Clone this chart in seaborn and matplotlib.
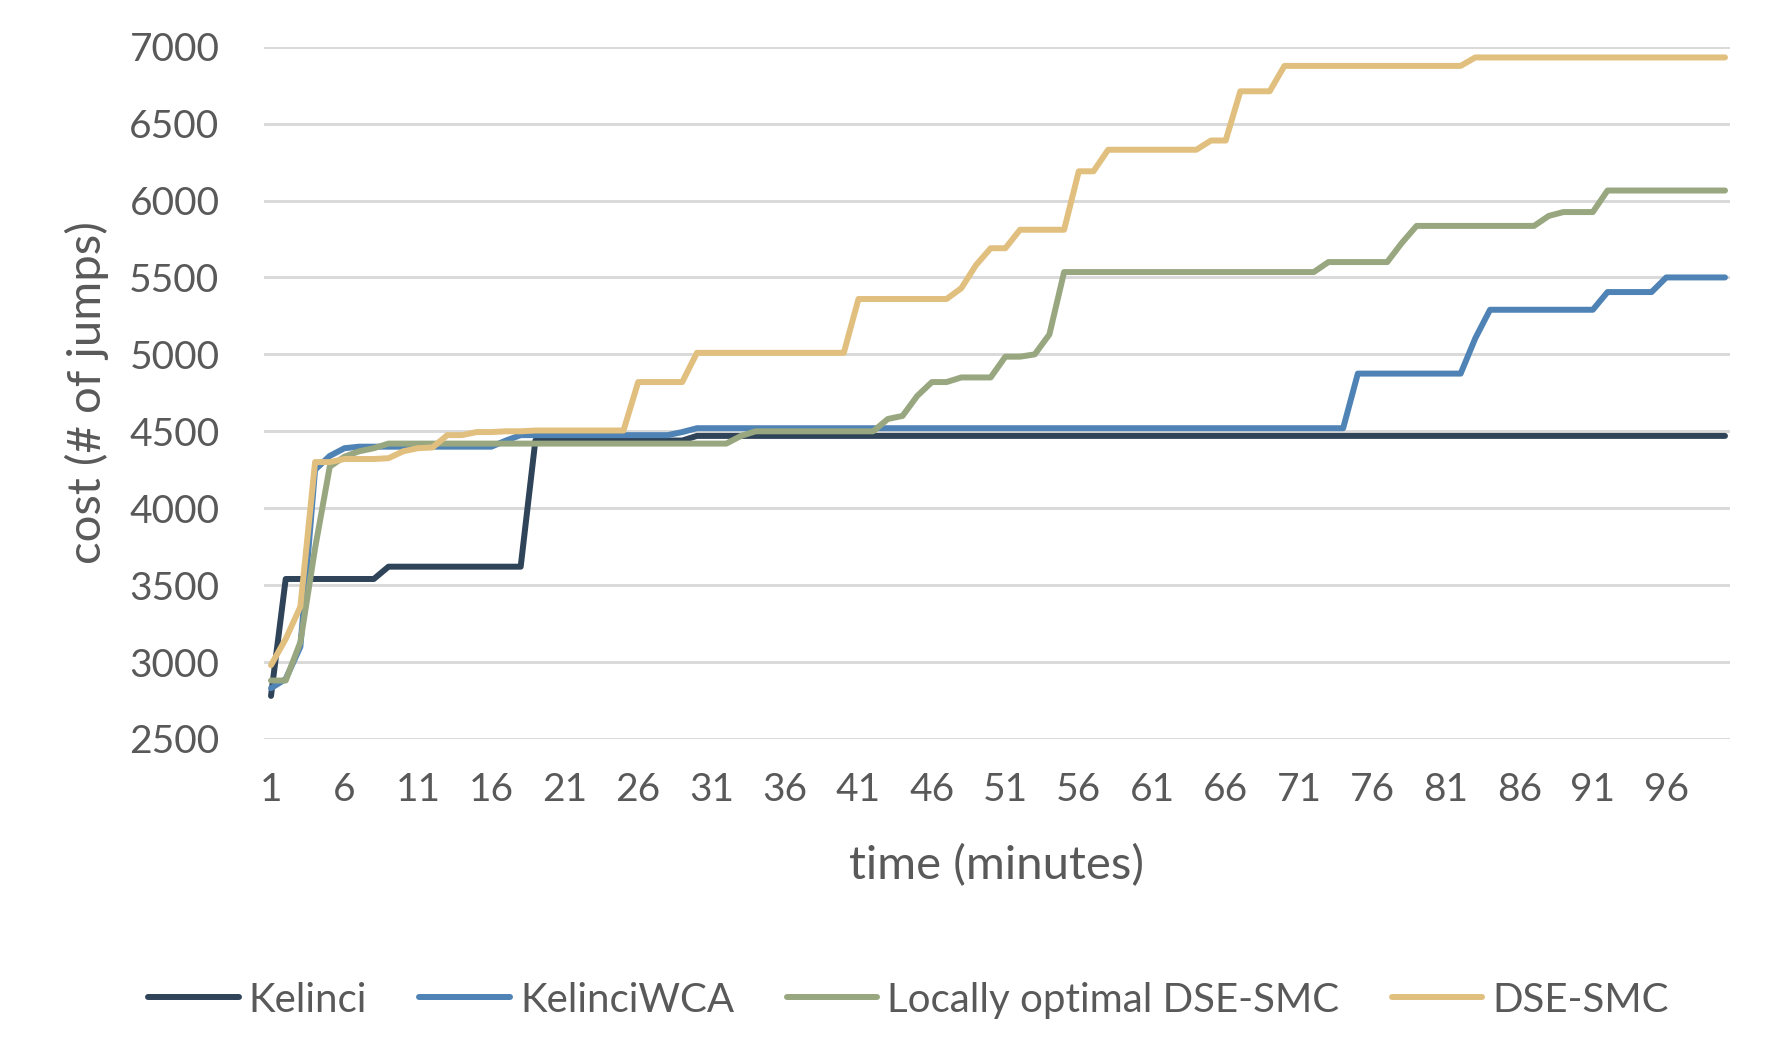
import numpy as np
import pandas as pd
import matplotlib
matplotlib.use('Agg')
import matplotlib.pyplot as plt
import seaborn as sns

# time axis: minutes 1..100
minutes = list(range(1, 101))
tick_labels = ['1', '6', '11', '16', '21', '26', '31', '36', '41', '46',
               '51', '56', '61', '66', '71', '76', '81', '86', '91', '96']

# values, ten per row
kelinci = [
    2780, 3540, 3540, 3540, 3540, 3540, 3540, 3540, 3620, 3620,
    3620, 3620, 3620, 3620, 3620, 3620, 3620, 3620, 4440, 4440,
    4440, 4440, 4440, 4440, 4440, 4440, 4440, 4440, 4440, 4470,
    4470, 4470, 4470, 4470, 4470, 4470, 4470, 4470, 4470, 4470,
    4470, 4470, 4470, 4470, 4470, 4470, 4470, 4470, 4470, 4470,
    4470, 4470, 4470, 4470, 4470, 4470, 4470, 4470, 4470, 4470,
    4470, 4470, 4470, 4470, 4470, 4470, 4470, 4470, 4470, 4470,
    4470, 4470, 4470, 4470, 4470, 4470, 4470, 4470, 4470, 4470,
    4470, 4470, 4470, 4470, 4470, 4470, 4470, 4470, 4470, 4470,
    4470, 4470, 4470, 4470, 4470, 4470, 4470, 4470, 4470, 4470,
]
kelinci_wca = [
    2830, 2890, 3100, 4250, 4340, 4390, 4400, 4400, 4400, 4400,
    4400, 4400, 4400, 4400, 4400, 4400, 4440, 4475, 4475, 4475,
    4475, 4475, 4475, 4475, 4475, 4475, 4475, 4475, 4495, 4520,
    4520, 4520, 4520, 4520, 4520, 4520, 4520, 4520, 4520, 4520,
    4520, 4520, 4520, 4520, 4520, 4520, 4520, 4520, 4520, 4520,
    4520, 4520, 4520, 4520, 4520, 4520, 4520, 4520, 4520, 4520,
    4520, 4520, 4520, 4520, 4520, 4520, 4520, 4520, 4520, 4520,
    4520, 4520, 4520, 4520, 4875, 4875, 4875, 4875, 4875, 4875,
    4875, 4875, 5105, 5290, 5290, 5290, 5290, 5290, 5290, 5290,
    5290, 5405, 5405, 5405, 5405, 5500, 5500, 5500, 5500, 5500,
]
locally_opt = [
    2880, 2880, 3130, 3740, 4270, 4335, 4370, 4390, 4420, 4420,
    4420, 4420, 4420, 4420, 4420, 4420, 4420, 4420, 4420, 4420,
    4420, 4420, 4420, 4420, 4420, 4420, 4420, 4420, 4420, 4420,
    4420, 4420, 4470, 4500, 4500, 4500, 4500, 4500, 4500, 4500,
    4500, 4500, 4580, 4600, 4730, 4820, 4820, 4850, 4850, 4850,
    4985, 4985, 5000, 5130, 5535, 5535, 5535, 5535, 5535, 5535,
    5535, 5535, 5535, 5535, 5535, 5535, 5535, 5535, 5535, 5535,
    5535, 5535, 5600, 5600, 5600, 5600, 5600, 5725, 5835, 5835,
    5835, 5835, 5835, 5835, 5835, 5835, 5835, 5900, 5925, 5925,
    5925, 6065, 6065, 6065, 6065, 6065, 6065, 6065, 6065, 6065,
]
dse_smc = [
    2980, 3150, 3360, 4300, 4300, 4320, 4320, 4320, 4325, 4370,
    4390, 4395, 4475, 4475, 4495, 4495, 4500, 4500, 4505, 4505,
    4505, 4505, 4505, 4505, 4505, 4820, 4820, 4820, 4820, 5010,
    5010, 5010, 5010, 5010, 5010, 5010, 5010, 5010, 5010, 5010,
    5360, 5360, 5360, 5360, 5360, 5360, 5360, 5430, 5580, 5690,
    5690, 5810, 5810, 5810, 5810, 6190, 6190, 6330, 6330, 6330,
    6330, 6330, 6330, 6330, 6390, 6390, 6710, 6710, 6710, 6875,
    6875, 6875, 6875, 6875, 6875, 6875, 6875, 6875, 6875, 6875,
    6875, 6875, 6930, 6930, 6930, 6930, 6930, 6930, 6930, 6930,
    6930, 6930, 6930, 6930, 6930, 6930, 6930, 6930, 6930, 6930,
]

series_names = ['Kelinci', 'KelinciWCA', 'Locally optimal DSE-SMC', 'DSE-SMC']
colors = ['#2F4359', '#4F83B5', '#98A77F', '#E1C07F']

df = pd.DataFrame({
    'time': minutes * 4,
    'cost': kelinci + kelinci_wca + locally_opt + dse_smc,
    'series': sum([[n] * len(minutes) for n in series_names], []),
})

sns.set_theme(style='white')
plt.rcParams['font.family'] = ['Lato', 'DejaVu Sans']
grey = '#595959'
lw = 4.3

fig = plt.figure(figsize=(17.92, 10.56), dpi=100)
ax = fig.add_axes([0.1473, 0.3002, 0.8181, 0.6556])

sns.lineplot(data=df, x='time', y='cost', hue='series', hue_order=series_names,
             palette=colors, linewidth=lw, estimator=None, sort=False, ax=ax,
             solid_joinstyle='round', solid_capstyle='round')

ax.set_xlim(0.52, 100.34)
ax.set_ylim(2500, 7000)
ax.set_yticks(np.arange(2500, 7001, 500))
ax.set_xticks([int(t) for t in tick_labels])
ax.set_xticklabels(tick_labels)
ax.grid(axis='y', color='#D9D9D9', linewidth=2.1)
ax.grid(axis='x', visible=False)
ax.set_axisbelow(True)
for s in ax.spines.values():
    s.set_visible(False)
ax.tick_params(axis='both', length=0, labelsize=28, labelcolor=grey)
ax.tick_params(axis='y', pad=32)
ax.tick_params(axis='x', pad=24)

ax.set_xlabel('time (minutes)', fontsize=34, color=grey)
ax.set_ylabel('cost (# of jumps)', fontsize=34, color=grey)
ax.xaxis.set_label_coords(0.5, -0.152)
ax.yaxis.set_label_coords(-0.106, 0.5)

handles, labels = ax.get_legend_handles_labels()
ax.get_legend().remove()
leg = fig.legend(handles, labels, loc='center', bbox_to_anchor=(0.507, 0.053),
                 ncol=4, frameon=False, fontsize=29, handlelength=2.25,
                 handletextpad=0.25, columnspacing=1.3)
for t in leg.get_texts():
    t.set_color(grey)
for h in leg.get_lines():
    h.set_linewidth(lw)
    h.set_solid_capstyle('round')

fig.savefig('out.png', dpi=100)
